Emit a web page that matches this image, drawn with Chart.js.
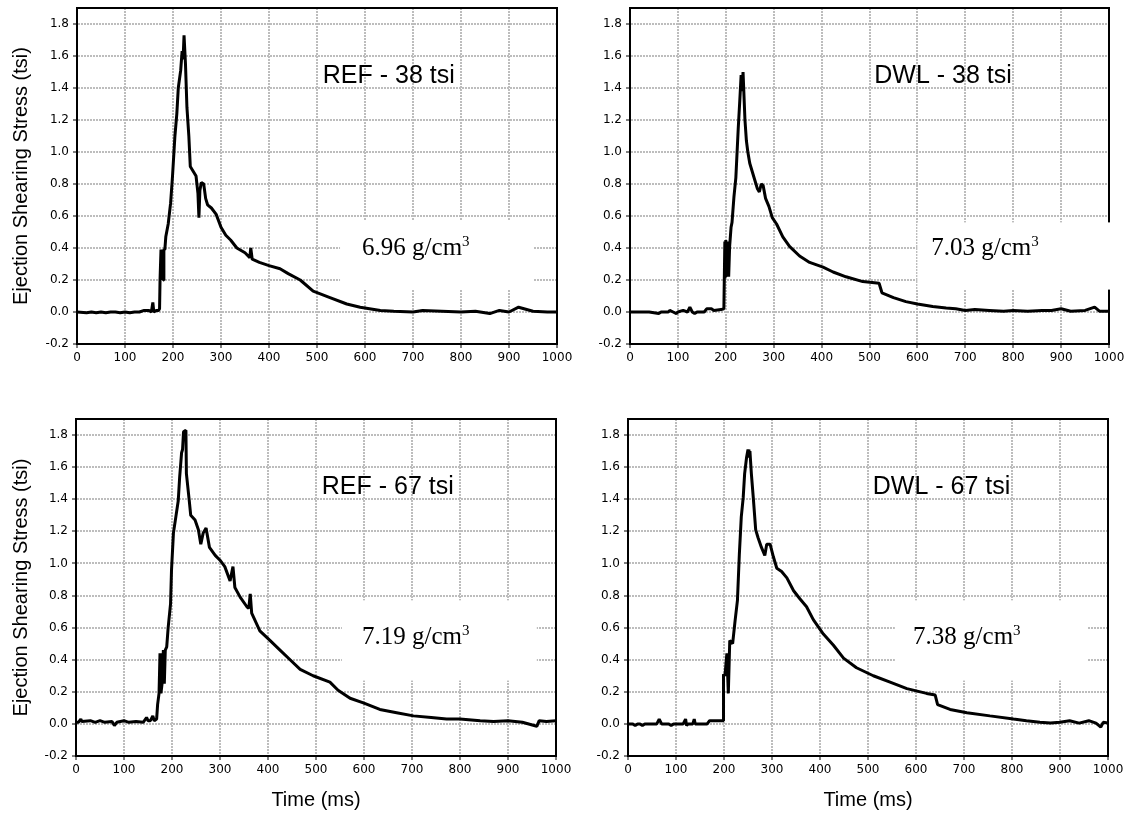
<!DOCTYPE html>
<html lang="en">
<head>
<meta charset="UTF-8">
<title>Ejection Shearing Stress vs Time</title>
<script src="https://cdn.jsdelivr.net/npm/chart.js"></script>
<style>
  body { margin: 0; background: #fff; }
  #wrap { position: relative; width: 1130px; height: 817px; }
  canvas { position: absolute; }
</style>
</head>
<body>
<div id="wrap">
  <canvas id="c1" width="600" height="375" style="left:0;top:0"></canvas>
  <canvas id="c2" width="565" height="375" style="left:565px;top:0"></canvas>
  <canvas id="c3" width="600" height="417" style="left:0;top:400px"></canvas>
  <canvas id="c4" width="565" height="417" style="left:565px;top:400px"></canvas>
</div>
<script>
// --- data (time in ms, stress in tsi) ---
const tRef38 = [0,20,30,40,50,60,70,80,90,100,110,120,130,140,150,155,158,160,165,170,172,173,175,176,177,178,179,180,181,183,185,190,195,199,204,208,211,216,219,221,223,226,229,233,236,242,248,252,254,256,259,264,268,272,280,290,300,310,320,333,350,360,362,365,380,400,423,440,465,492,527,562,590,632,660,700,720,760,800,830,860,880,900,920,950,980,1000];
const sRef38 = [0,-0.005,0,-0.005,0,-0.005,0,0,-0.005,0,-0.005,0,0,0.01,0.01,0,0.06,0,0.01,0.01,0.02,0.2,0.39,0.2,0.39,0.22,0.39,0.2,0.39,0.39,0.47,0.55,0.68,0.85,1.10,1.24,1.40,1.51,1.63,1.58,1.73,1.55,1.28,1.10,0.91,0.88,0.85,0.74,0.59,0.76,0.81,0.80,0.71,0.67,0.65,0.61,0.53,0.48,0.45,0.40,0.37,0.34,0.40,0.33,0.31,0.29,0.27,0.24,0.20,0.13,0.09,0.05,0.03,0.01,0.005,0,0.01,0.005,0,0.005,-0.01,0.01,0,0.03,0.005,0,0];

const tDwl38 = [0,40,50,60,65,80,83,90,97,100,111,120,125,130,135,140,155,160,170,175,190,196,198,199,200,202,204,206,208,211,213,217,221,226,229,232,234,236,240,243,246,250,255,260,266,270,274,278,283,290,297,306,319,333,354,375,403,424,451,486,520,526,550,576,600,632,660,680,700,720,750,780,800,830,860,880,900,920,950,970,980,1000];
const sDwl38 = [0,0,-0.005,-0.01,0,0,0.01,0,-0.01,0,0.01,0,0.03,0,-0.01,0,0,0.02,0.02,0.01,0.015,0.02,0.44,0.22,0.45,0.25,0.44,0.22,0.41,0.53,0.56,0.72,0.84,1.15,1.31,1.48,1.38,1.50,1.20,1.07,1.00,0.93,0.88,0.83,0.77,0.75,0.80,0.79,0.71,0.66,0.59,0.55,0.47,0.41,0.35,0.31,0.28,0.25,0.22,0.19,0.18,0.12,0.09,0.065,0.05,0.035,0.025,0.02,0.01,0.015,0.01,0.005,0.01,0.005,0.01,0.01,0.02,0.005,0.01,0.03,0.005,0.005];

const tRef67 = [0,5,10,12,30,40,50,60,75,80,85,100,110,125,140,147,150,155,160,163,168,170,173,175,177,180,182,184,186,189,192,197,199,203,208,213,216,220,222,224,229,230,236,239,248,255,260,265,271,278,290,300,310,321,327,331,342,356,360,363,366,383,404,425,446,467,494,529,546,571,600,633,668,703,740,772,800,842,870,900,930,960,965,980,1000];
const sRef67 = [0.01,0.01,0.03,0.015,0.02,0.01,0.02,0.01,0.015,-0.01,0.01,0.02,0.01,0.015,0.01,0.04,0.02,0.02,0.05,0.02,0.03,0.12,0.19,0.44,0.19,0.27,0.46,0.25,0.46,0.48,0.60,0.75,0.96,1.19,1.29,1.39,1.54,1.69,1.71,1.82,1.83,1.56,1.39,1.30,1.27,1.21,1.12,1.19,1.22,1.10,1.05,1.02,0.98,0.89,0.98,0.85,0.79,0.73,0.72,0.81,0.69,0.58,0.52,0.46,0.40,0.34,0.30,0.26,0.21,0.16,0.13,0.09,0.07,0.05,0.04,0.03,0.03,0.02,0.015,0.02,0.01,-0.015,0.02,0.015,0.02];

const tDwl67 = [0,10,15,20,25,30,35,60,65,70,85,90,95,115,120,122,125,135,138,140,165,170,180,190,198,199,202,206,209,212,218,223,228,232,236,240,243,247,250,252,254,257,261,266,271,278,285,289,296,303,310,320,331,345,358,372,386,407,428,449,476,511,546,581,622,640,645,671,706,754,803,830,858,880,900,920,940,960,975,985,990,1000];
const sDwl67 = [0,0,-0.01,0,0,-0.01,0,0,0.03,0,0,-0.01,0,0,0.03,-0.01,0,0,0.03,0,0,0.02,0.02,0.02,0.02,0.31,0.30,0.44,0.19,0.52,0.50,0.64,0.77,1.06,1.29,1.41,1.56,1.66,1.71,1.66,1.70,1.56,1.41,1.21,1.16,1.10,1.05,1.12,1.12,1.04,0.97,0.95,0.91,0.83,0.78,0.73,0.65,0.56,0.49,0.41,0.35,0.30,0.26,0.22,0.19,0.18,0.12,0.09,0.07,0.05,0.03,0.02,0.01,0.005,0.01,0.02,0.005,0.02,0.005,-0.02,0.01,0.005];

const panelNames = ['REF - 38 tsi', 'DWL - 38 tsi', 'REF - 67 tsi', 'DWL - 67 tsi'];
const densities = ['6.96', '7.03', '7.19', '7.38'];

const yTitle = 'Ejection Shearing Stress (tsi)';
const xTitle = 'Time (ms)';

// layout of each panel (plot box in canvas pixels) and annotation placement in data units
const panels = [
  { id: 'c1', t: tRef38, s: sRef38, plot: [77, 8, 557, 344], showY: true, showX: false,
    name: [512, 1.43], dens: [594, 0.356], box: [548, 950, 0.14, 0.575] },
  { id: 'c2', t: tDwl38, s: sDwl38, plot: [65, 8, 544, 344], showY: false, showX: false,
    name: [510, 1.43], dens: [629, 0.356], box: [600, 1006, 0.14, 0.56] },
  { id: 'c3', t: tRef67, s: sRef67, plot: [76, 19, 556, 356], showY: true, showX: true,
    name: [512, 1.43], dens: [596, 0.5], box: [554, 960, 0.27, 0.77] },
  { id: 'c4', t: tDwl67, s: sDwl67, plot: [63, 19, 543, 356], showY: false, showX: true,
    name: [510, 1.43], dens: [594, 0.5], box: [556, 958, 0.27, 0.77] }
];

const sans = '"Liberation Sans", Arial, sans-serif';
const serif = '"Liberation Serif", "Times New Roman", serif';
const tickFont = { family: '"DejaVu Sans", sans-serif', size: 12 };

// white label boxes, panel titles, density text, and the plot frame
const decor = {
  id: 'decor',
  beforeDatasetsDraw(chart, args, o) {
    const { ctx, chartArea: a, scales: { x, y } } = chart;
    ctx.save();
    ctx.strokeStyle = '#000';
    ctx.lineWidth = 2;
    ctx.strokeRect(a.left, a.top, a.right - a.left, a.bottom - a.top);

    const b = o.box;
    const bx1 = x.getPixelForValue(b[0]), bx2 = x.getPixelForValue(b[1]);
    const by1 = y.getPixelForValue(b[3]), by2 = y.getPixelForValue(b[2]);
    ctx.fillStyle = '#fff';
    ctx.fillRect(bx1, by1, bx2 - bx1, by2 - by1);

    ctx.fillStyle = '#000';
    ctx.textBaseline = 'alphabetic';
    ctx.textAlign = 'left';
    ctx.font = '25px ' + sans;
    ctx.fillText(o.name, x.getPixelForValue(o.namePos[0]), y.getPixelForValue(o.namePos[1]));

    const dx = x.getPixelForValue(o.densPos[0]), dy = y.getPixelForValue(o.densPos[1]);
    ctx.font = '25px ' + serif;
    const main = o.dens + ' g/cm';
    ctx.fillText(main, dx, dy);
    const w = ctx.measureText(main).width;
    ctx.font = '15px ' + serif;
    ctx.fillText('3', dx + w, dy - 9);
    ctx.restore();
  }
};

panels.forEach((p, i) => {
  const canvas = document.getElementById(p.id);
  const W = canvas.width, H = canvas.height;
  const [pl, pt, pr, pb] = p.plot;
  const points = p.t.map((t, k) => ({ x: t, y: p.s[k] }));

  new Chart(canvas, {
    type: 'line',
    data: {
      datasets: [{
        data: points,
        borderColor: '#000',
        borderWidth: 3,
        borderJoinStyle: 'bevel',
        pointRadius: 0,
        tension: 0,
        fill: false
      }]
    },
    options: {
      responsive: false,
      animation: false,
      events: [],
      layout: { padding: { left: 0, top: pt, right: W - pr, bottom: 0 } },
      plugins: {
        legend: { display: false },
        tooltip: { enabled: false },
        decor: { box: p.box, name: panelNames[i], namePos: p.name, dens: densities[i], densPos: p.dens }
      },
      scales: {
        x: {
          type: 'linear',
          min: 0, max: 1000,
          afterFit(sc) { sc.height = H - pb; sc.paddingLeft = 0; sc.paddingRight = 0; },
          ticks: {
            stepSize: 100, maxRotation: 0, autoSkip: false, padding: 3,
            color: '#000', font: tickFont,
            callback: v => String(v)
          },
          grid: {
            color: '#bdbdbd', lineWidth: 2,
            tickColor: '#000', tickWidth: 1, tickLength: 4, tickBorderDash: []
          },
          border: { color: '#000', width: 2, dash: [2, 1] },
          title: {
            display: p.showX, text: xTitle, color: '#000',
            font: { family: sans, size: 20 }, padding: { top: 0, bottom: 5 }
          }
        },
        y: {
          min: -0.2, max: 1.9,
          afterFit(sc) { sc.width = pl; sc.paddingTop = 0; sc.paddingBottom = 0; },
          ticks: {
            stepSize: 0.2, includeBounds: false, padding: 4,
            color: '#000', font: tickFont,
            callback: v => (Math.abs(v) < 1e-9 ? 0 : v).toFixed(1)
          },
          grid: {
            color: '#bdbdbd', lineWidth: 2,
            tickColor: '#000', tickWidth: 1, tickLength: 4, tickBorderDash: []
          },
          border: { color: '#000', width: 2, dash: [2, 1] },
          title: {
            display: p.showY, text: yTitle, color: '#000',
            font: { family: sans, size: 20 }, padding: { top: 9, bottom: 0 }
          }
        }
      }
    },
    plugins: [decor]
  });
});
</script>
</body>
</html>
